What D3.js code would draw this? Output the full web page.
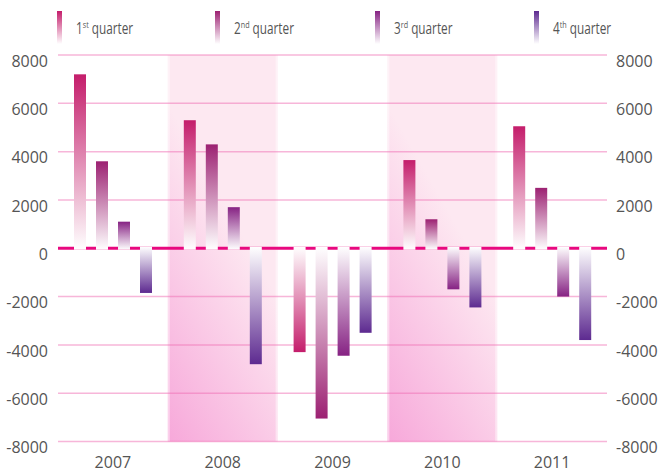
<!DOCTYPE html>
<html>
<head>
<meta charset="utf-8">
<script src="https://cdn.jsdelivr.net/npm/d3@7"></script>
<style>
  html, body { margin: 0; padding: 0; background: #fff; }
  svg { display: block; }
  .axis text { font-family: "Open Sans", "Noto Sans", sans-serif; font-size: 16px; fill: #555; }
  .legend text { font-family: "Open Sans", "Noto Sans", sans-serif; font-size: 15.5px; fill: #555; }
</style>
</head>
<body>
<svg id="chart" width="659" height="471"></svg>
<script>
const years = ["2007", "2008", "2009", "2010", "2011"];
const quarters = ["Q1", "Q2", "Q3", "Q4"];
const quarterNums = ["1", "2", "3", "4"];
const quarterSuffix = ["st", "nd", "rd", "th"];
const q1 = [7200, 5300, -4300, 3650, 5050];
const q2 = [3600, 4300, -7050, 1200, 2500];
const q3 = [1100, 1700, -4450, -1700, -2000];
const q4 = [-1850, -4800, -3500, -2450, -3800];
const tickValues = [-8000, -6000, -4000, -2000, 0, 2000, 4000, 6000, 8000];
const shadedYears = ["2008", "2010"];
const quarterColors = ["#c41d6b", "#9c2172", "#862283", "#5d2a90"];

const series = [q1, q2, q3, q4];
const data = years.map((yr, i) => ({ year: yr, values: quarters.map((q, j) => ({ q, j, v: series[j][i] })) }));

const svg = d3.select("#chart");
const plotLeft = 58, plotRight = 607, plotTop = 55, plotBottom = 441.5;

const x0 = d3.scaleBand().domain(years).range([plotLeft, plotRight]).padding(0);
const x1 = d3.scaleBand().domain(quarters).range([16, 94]).paddingInner(10 / 22).paddingOuter(0);
const y = d3.scaleLinear().domain([-8000, 8000]).range([plotBottom, plotTop]);
const fmt = d => String(d);

const defs = svg.append("defs");
const bg = defs.append("linearGradient").attr("id", "bandGrad")
  .attr("x1", 0).attr("y1", 1).attr("x2", 0.35).attr("y2", 0.3);
bg.append("stop").attr("offset", "0%").attr("stop-color", "#f7a8da");
bg.append("stop").attr("offset", "100%").attr("stop-color", "#fde8f1");

quarterColors.forEach((c, j) => {
  const gp = defs.append("linearGradient").attr("id", "gp" + j).attr("x1", 0).attr("y1", 0).attr("x2", 0).attr("y2", 1);
  gp.append("stop").attr("offset", "0%").attr("stop-color", c);
  gp.append("stop").attr("offset", "100%").attr("stop-color", "#ffffff");
  const gn = defs.append("linearGradient").attr("id", "gn" + j).attr("x1", 0).attr("y1", 0).attr("x2", 0).attr("y2", 1);
  gn.append("stop").attr("offset", "0%").attr("stop-color", "#ffffff");
  gn.append("stop").attr("offset", "100%").attr("stop-color", c);
});

svg.append("g").selectAll("rect").data(shadedYears).join("rect")
  .attr("x", d => x0(d)).attr("y", y(8000))
  .attr("width", x0.bandwidth()).attr("height", y(-8000) - y(8000))
  .attr("fill", "url(#bandGrad)");
svg.append("g").selectAll("line").data(shadedYears.flatMap(d => [x0(d) + 1, x0(d) + x0.bandwidth() - 1])).join("line")
  .attr("x1", d => d).attr("x2", d => d).attr("y1", y(8000)).attr("y2", y(-8000))
  .attr("stroke", "#ffffff").attr("stroke-opacity", 0.45).attr("stroke-width", 2);

svg.append("g").selectAll("line").data(tickValues.filter(d => d !== 0)).join("line")
  .attr("x1", plotLeft).attr("x2", plotRight)
  .attr("y1", d => y(d)).attr("y2", d => y(d))
  .attr("stroke", "#f06eb4").attr("stroke-opacity", 0.5).attr("stroke-width", 1.5);

svg.append("line").attr("x1", plotLeft).attr("x2", plotRight).attr("y1", y(0)).attr("y2", y(0))
  .attr("stroke", "#e8087f").attr("stroke-width", 3);

const groups = svg.append("g").selectAll("g").data(data).join("g")
  .attr("transform", d => `translate(${x0(d.year)},0)`);
groups.selectAll("rect").data(d => d.values).join("rect")
  .attr("x", d => x1(d.q))
  .attr("width", x1.bandwidth())
  .attr("y", d => d.v >= 0 ? y(d.v) : y(0) - 1.5)
  .attr("height", d => d.v >= 0 ? y(0) + 1.5 - y(d.v) : y(d.v) - y(0) + 1.5)
  .attr("fill", d => d.v >= 0 ? `url(#gp${d.j})` : `url(#gn${d.j})`);

const yl = svg.append("g").attr("class", "axis").attr("transform", `translate(${plotLeft},0)`)
  .call(d3.axisLeft(y).tickValues(tickValues).tickSize(0).tickPadding(10).tickFormat(fmt));
yl.select(".domain").remove();
yl.selectAll("text").attr("dy", "0.7em");
const yr = svg.append("g").attr("class", "axis").attr("transform", `translate(${plotRight},0)`)
  .call(d3.axisRight(y).tickValues(tickValues).tickSize(0).tickPadding(9).tickFormat(fmt));
yr.select(".domain").remove();
yr.selectAll("text").attr("dy", "0.7em");
const xa = svg.append("g").attr("class", "axis").attr("transform", `translate(0,${plotBottom})`)
  .call(d3.axisBottom(x0).tickSize(0).tickPadding(15));
xa.select(".domain").remove();

const legendX = [57, 215, 375, 534];
const lg = svg.append("g").attr("class", "legend");
quarterColors.forEach((c, j) => {
  const lgGrad = defs.append("linearGradient").attr("id", "lg" + j).attr("x1", 0).attr("y1", 0).attr("x2", 0).attr("y2", 1);
  lgGrad.append("stop").attr("offset", "0%").attr("stop-color", c);
  lgGrad.append("stop").attr("offset", "100%").attr("stop-color", "#ffffff");
  lg.append("rect").attr("x", legendX[j]).attr("y", 11).attr("width", 5).attr("height", 33).attr("fill", `url(#lg${j})`);
  const t = lg.append("text").attr("transform", `translate(${legendX[j] + 19},34) scale(0.76,1)`);
  t.append("tspan").text(quarterNums[j]);
  t.append("tspan").attr("dy", -6).style("font-size", "9.5px").text(quarterSuffix[j]);
  t.append("tspan").attr("dy", 6).attr("dx", 4).text("quarter");
});
</script>
</body>
</html>
